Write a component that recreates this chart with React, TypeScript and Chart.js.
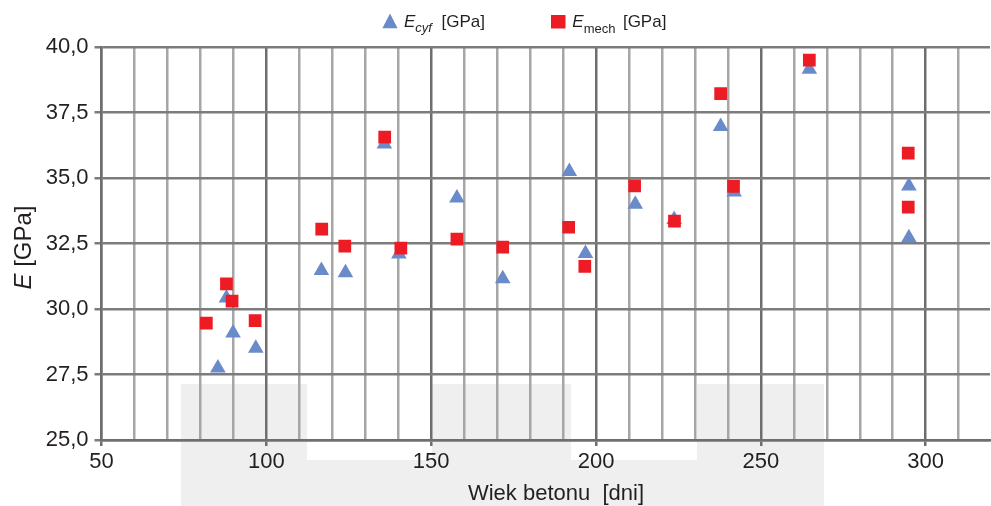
import React, { useEffect, useRef } from "react";
import { Chart, registerables } from "chart.js";

Chart.register(...registerables);

// Concrete age [days] and modulus values [GPa]
const ageCyf = [85.3, 87.9, 89.9, 96.8, 116.7, 124.0, 135.8, 140.2, 157.8, 171.7, 191.9, 196.8, 211.9, 223.7, 237.8, 241.9, 264.7, 294.9, 294.9];
const eCyf = [27.75, 30.42, 29.08, 28.5, 31.47, 31.38, 36.3, 32.1, 34.24, 31.15, 35.25, 32.12, 34.0, 33.42, 36.97, 34.47, 39.15, 34.69, 32.72];

const ageMech = [81.8, 87.9, 89.6, 96.6, 116.8, 123.8, 135.9, 140.8, 157.8, 171.7, 191.7, 196.6, 211.7, 223.8, 237.8, 241.7, 264.7, 294.7, 294.7];
const eMech = [29.46, 30.96, 30.3, 29.56, 33.05, 32.4, 36.56, 32.32, 32.67, 32.36, 33.12, 31.63, 34.7, 33.35, 38.22, 34.68, 39.5, 35.95, 33.89];

const xMin = 50;
const xMax = 319.5;
const xStep = 10;
const xLabelEvery = 50;
const yMin = 25;
const yMax = 40;
const yStep = 2.5;

const xTitle = "Wiek betonu  [dni]";
const yTitleSymbol = "E";
const yTitleUnit = " [GPa]";
const legendSymbol = "E";
const legendSubCyf = "cyf";
const legendSubMech = "mech";
const legendUnit = "[GPa]";

const FONT = '"Liberation Sans", Arial, Helvetica, sans-serif';
const TEXT = "#231f20";
const BLUE = "#6a8bc9";
const RED = "#ed1c24";
const MAJOR = "#6e6e6e";
const MINOR = "#a6a6a6";
const HGRID = "#7c7c7c";

const bgPlugin = {
  id: "bgPatch",
  beforeDraw(chart: any) {
    const ctx = chart.ctx as CanvasRenderingContext2D;
    ctx.save();
    ctx.fillStyle = "#efefef";
    ctx.fillRect(181, 384, 643, 122);
    ctx.fillStyle = "#ffffff";
    ctx.fillRect(307, 384, 125, 76);
    ctx.fillRect(571, 384, 126, 76);
    ctx.restore();
  },
};

const textPlugin = {
  id: "texts",
  afterDraw(chart: any) {
    const ctx = chart.ctx as CanvasRenderingContext2D;
    ctx.save();
    ctx.textBaseline = "alphabetic";
    ctx.textAlign = "left";

    // legend item 1: triangle
    ctx.fillStyle = BLUE;
    ctx.beginPath();
    ctx.moveTo(390, 13.5);
    ctx.lineTo(397.6, 28.3);
    ctx.lineTo(382.4, 28.3);
    ctx.closePath();
    ctx.fill();

    ctx.fillStyle = TEXT;
    let x = 404;
    ctx.font = `italic 17px ${FONT}`;
    ctx.fillText(legendSymbol, x, 27.3);
    x += ctx.measureText(legendSymbol).width;
    ctx.font = `italic 13px ${FONT}`;
    ctx.fillText(legendSubCyf, x, 32.3);
    x += ctx.measureText(legendSubCyf).width + 9.5;
    ctx.font = `17px ${FONT}`;
    ctx.fillText(legendUnit, x, 27.3);

    // legend item 2: square
    ctx.fillStyle = RED;
    ctx.fillRect(551, 15, 14.5, 13.5);
    ctx.fillStyle = TEXT;
    x = 572.3;
    ctx.font = `italic 17px ${FONT}`;
    ctx.fillText(legendSymbol, x, 27.3);
    x += ctx.measureText(legendSymbol).width;
    ctx.font = `13px ${FONT}`;
    ctx.fillText(legendSubMech, x, 32.8);
    x += ctx.measureText(legendSubMech).width + 7.5;
    ctx.font = `17px ${FONT}`;
    ctx.fillText(legendUnit, x, 27.3);

    // x title
    ctx.font = `22px ${FONT}`;
    ctx.textAlign = "center";
    ctx.fillText(xTitle, 556, 499.5);

    // y title (rotated)
    ctx.textAlign = "left";
    ctx.translate(31, 247.5);
    ctx.rotate(-Math.PI / 2);
    ctx.font = `italic 24px ${FONT}`;
    const w1 = ctx.measureText(yTitleSymbol).width;
    ctx.font = `24px ${FONT}`;
    const w2 = ctx.measureText(yTitleUnit).width;
    const start = -(w1 + w2) / 2;
    ctx.font = `italic 24px ${FONT}`;
    ctx.fillText(yTitleSymbol, start, 0);
    ctx.font = `24px ${FONT}`;
    ctx.fillText(yTitleUnit, start + w1, 0);
    ctx.restore();
  },
};

export default function App() {
  const ref = useRef<HTMLCanvasElement>(null);

  useEffect(() => {
    if (!ref.current) return;
    const isMajor = (v: number) => Math.abs(v % xLabelEvery) < 1e-6;
    const chart = new Chart(ref.current, {
      type: "scatter",
      data: {
        datasets: [
          {
            label: "E cyf",
            data: ageCyf.map((a, i) => ({ x: a, y: eCyf[i] })),
            pointStyle: "triangle",
            pointRadius: 9,
            pointHoverRadius: 9,
            backgroundColor: BLUE,
            borderColor: BLUE,
            borderWidth: 0,
            order: 2,
          },
          {
            label: "E mech",
            data: ageMech.map((a, i) => ({ x: a, y: eMech[i] })),
            pointStyle: "rect",
            pointRadius: 9,
            pointHoverRadius: 9,
            backgroundColor: RED,
            borderColor: RED,
            borderWidth: 0,
            order: 1,
          },
        ],
      },
      options: {
        responsive: false,
        animation: false,
        events: [],
        layout: { padding: { top: 47, right: 0, bottom: 0, left: 0 } },
        plugins: {
          legend: { display: false },
          tooltip: { enabled: false },
          title: { display: false },
        },
        scales: {
          x: {
            type: "linear",
            min: xMin,
            max: xMax,
            afterFit: (s: any) => {
              s.height = 66;
            },
            ticks: {
              stepSize: xStep,
              includeBounds: false,
              autoSkip: false,
              maxRotation: 0,
              minRotation: 0,
              color: TEXT,
              padding: 3,
              font: { family: FONT, size: 22 },
              callback: (v: any) => (isMajor(Number(v)) ? String(v) : ""),
            },
            grid: {
              color: (c: any) => (c.tick && isMajor(c.tick.value) ? MAJOR : MINOR),
              lineWidth: 2.5,
              tickLength: 6,
              tickColor: (c: any) => (c.tick && isMajor(c.tick.value) ? MAJOR : "rgba(0,0,0,0)"),
            },
            border: { color: MAJOR, width: 2.5 },
          },
          y: {
            type: "linear",
            min: yMin,
            max: yMax,
            afterFit: (s: any) => {
              s.width = 101.5;
            },
            ticks: {
              stepSize: yStep,
              color: TEXT,
              padding: 6,
              font: { family: FONT, size: 22 },
              callback: (v: any) => Number(v).toFixed(1).replace(".", ","),
            },
            grid: {
              color: HGRID,
              lineWidth: 2.5,
              tickLength: 7,
              tickColor: HGRID,
            },
            border: { color: MAJOR, width: 2.5 },
          },
        },
      },
      plugins: [bgPlugin, textPlugin],
    } as any);
    return () => chart.destroy();
  }, []);

  return (
    <div style={{ position: "fixed", left: 0, top: 0, width: 991, height: 506, overflow: "hidden", background: "#ffffff" }}>
      <canvas ref={ref} width={999} height={506} style={{ display: "block", width: 999, height: 506 }} />
    </div>
  );
}
